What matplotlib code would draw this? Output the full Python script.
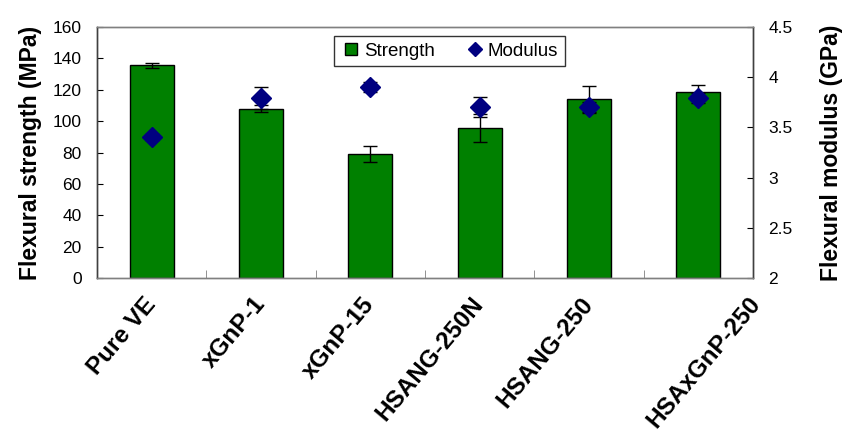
import numpy as np
import matplotlib
matplotlib.use("Agg")
import matplotlib.pyplot as plt
import matplotlib.transforms as mtransforms
from matplotlib.lines import Line2D

plt.rcParams["font.family"] = ["Liberation Sans", "DejaVu Sans"]

# ── data ──
samples = ["Pure VE", "xGnP-1", "xGnP-15", "HSANG-250N", "HSANG-250", "HSAxGnP-250"]
strength = [135.5, 108, 79, 95.5, 114, 118.5]
strength_err = [1.5, 2, 5, 9, 8.5, 4.3]
modulus = [3.40, 3.79, 3.90, 3.70, 3.70, 3.79]
modulus_err = [0.03, 0.11, 0.05, 0.1, 0.05, 0.05]

bar_color = "#008000"
dia_color = "#000080"
frame = "#404040"

fig = plt.figure(figsize=(8.53, 4.33), dpi=100)
ax1 = fig.add_axes([0.1137, 0.358, 0.7691, 0.5796])
ax2 = ax1.twinx()

x = np.arange(len(samples))

# ── bars: strength ──
ax1.bar(x, strength, width=0.4, color=bar_color, edgecolor="black", linewidth=1, zorder=2)
ax1.errorbar(x, strength, yerr=strength_err, fmt="none", ecolor="black",
             elinewidth=1, capsize=5, capthick=1, zorder=3)
ax1.set_xlim(-0.5, len(samples) - 0.5)
ax1.set_ylim(0, 160)
ax1.set_yticks(np.arange(0, 161, 20))
ax1.set_ylabel("Flexural strength (MPa)", fontsize=16.5, fontweight="bold", labelpad=8)

# x ticks: category labels centred, small tick marks between categories
ax1.set_xticks(x)
ax1.set_xticklabels(samples, rotation=50, ha="right", va="center",
                    rotation_mode="anchor", fontsize=17.5, fontweight="bold")
ax1.tick_params(axis="x", length=0, pad=16)
# last label sits further right in the original
last = ax1.get_xticklabels()[-1]
last.set_transform(last.get_transform() +
                   mtransforms.ScaledTranslation(0.58, 0, fig.dpi_scale_trans))
ax1.set_xticks(x[:-1] + 0.5, minor=True)
ax1.tick_params(axis="x", which="minor", direction="in", length=6, color="gray")
ax1.tick_params(axis="y", direction="in", length=4, labelsize=12.5, pad=11)

# ── diamonds: modulus ──
ax2.errorbar(x, modulus, yerr=modulus_err, fmt="none", ecolor="black",
             elinewidth=1, capsize=5, capthick=1, zorder=3)
ax2.plot(x, modulus, linestyle="none", marker="D", markersize=10,
         color=dia_color, zorder=4)
ax2.set_ylim(2, 4.5)
ax2.set_yticks([2, 2.5, 3, 3.5, 4, 4.5])
ax2.set_yticklabels(["2", "2.5", "3", "3.5", "4", "4.5"])
ax2.tick_params(axis="y", direction="in", length=4, labelsize=12.5, pad=11)
ax2.set_ylabel("Flexural modulus (GPa)", fontsize=16.5, fontweight="bold", labelpad=20)

for ax in (ax1, ax2):
    for s in ax.spines.values():
        s.set_color(frame)
        s.set_linewidth(1)
    ax.spines["top"].set_color("gray")
    ax.spines["bottom"].set_color("gray")

# ── legend ──
handles = [
    Line2D([], [], linestyle="none", marker="s", markersize=9,
           markerfacecolor=bar_color, markeredgecolor="black", label="Strength"),
    Line2D([], [], linestyle="none", marker="D", markersize=7,
           color=dia_color, label="Modulus"),
]
leg = ax2.legend(handles=handles, loc="center", bbox_to_anchor=(0.537, 0.904),
                 ncol=2, fontsize=13.5, frameon=True, fancybox=False,
                 handletextpad=0.1, columnspacing=1.5, borderpad=0.35,
                 handlelength=1.2)
leg.get_frame().set_edgecolor("black")
leg.get_frame().set_linewidth(1)

fig.savefig("out.png", dpi=100, facecolor="white")
